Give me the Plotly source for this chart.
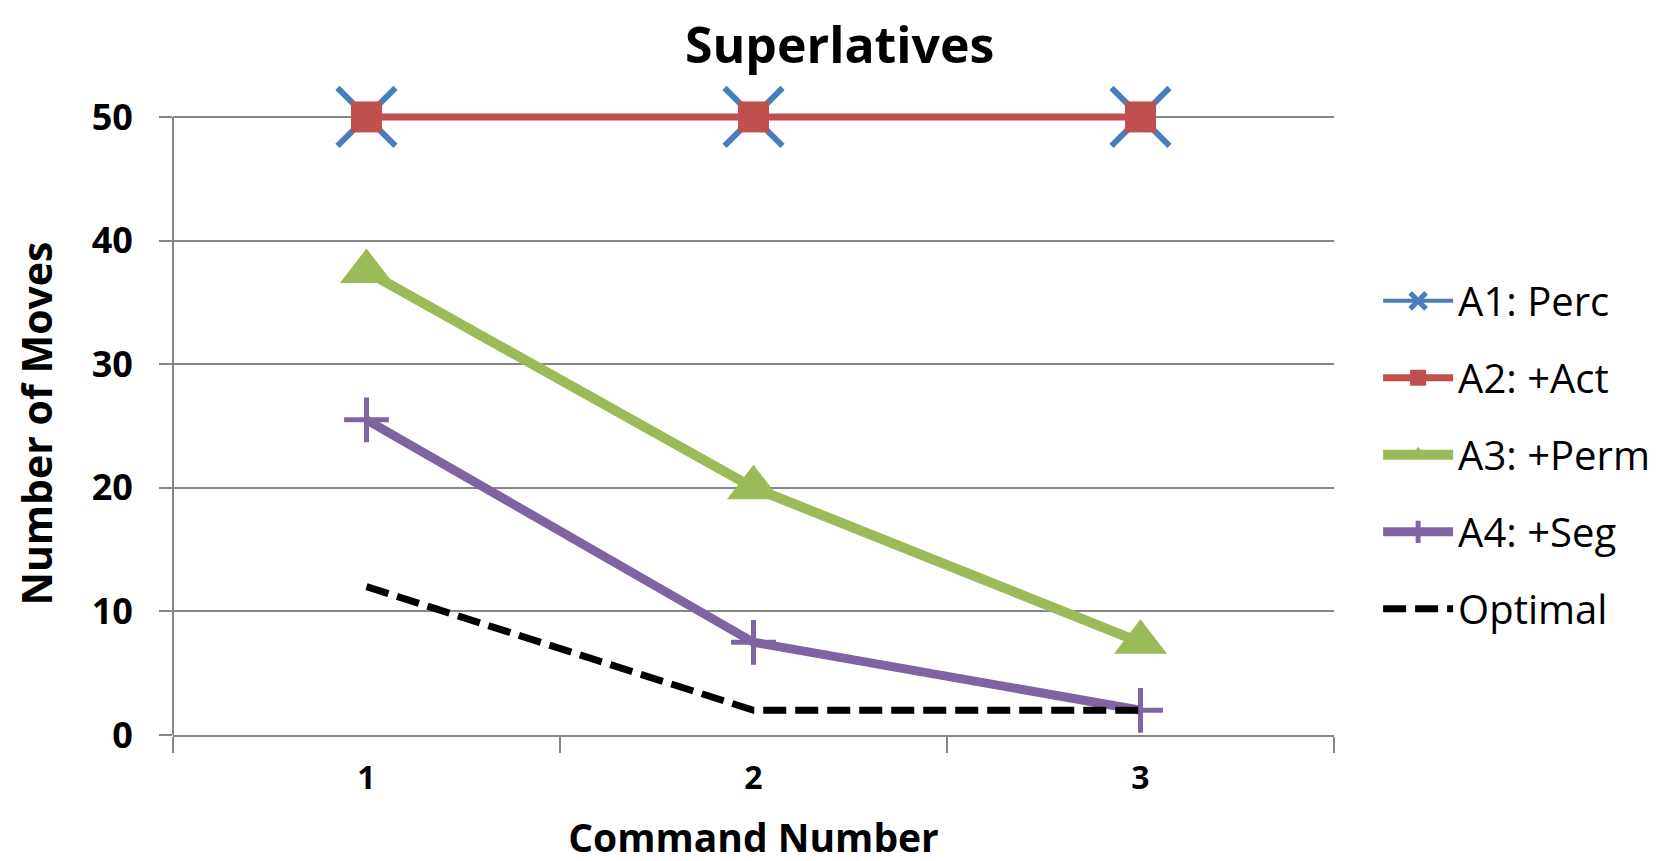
import plotly.graph_objects as go

categories = ["1", "2", "3"]
a1_perc = [50, 50, 50]
a2_act = [50, 50, 50]
a3_perm = [37.5, 20, 7.5]
a4_seg = [25.5, 7.5, 2]
optimal = [12, 2, 2]

y_ticks = [0, 10, 20, 30, 40, 50]
y_max = 50

BLUE = "#4A7EBB"
RED = "#C0504D"
GREEN = "#9BBB59"
PURPLE = "#8064A2"
GRID = "#868686"
FONT = "Open Sans"

fig = go.Figure()

fig.add_trace(go.Scatter(
    x=categories, y=a1_perc, name="A1: Perc", mode="lines+markers",
    line=dict(color=BLUE, width=4),
    marker=dict(symbol="x-thin", size=58, line=dict(color=BLUE, width=6), color=BLUE),
    cliponaxis=False, legendgroup="g1",
))
fig.add_trace(go.Scatter(
    x=categories, y=a2_act, name="A2: +Act", mode="lines+markers",
    line=dict(color=RED, width=7),
    marker=dict(symbol="square", size=31, color=RED, line=dict(width=0)),
    cliponaxis=False, legendgroup="g2",
))
fig.add_trace(go.Scatter(
    x=categories, y=a3_perm, name="A3: +Perm", mode="lines+markers",
    line=dict(color=GREEN, width=10),
    marker=dict(symbol="triangle-up", size=46, color=GREEN, line=dict(width=0)),
    cliponaxis=False, legendgroup="g3",
))
fig.add_trace(go.Scatter(
    x=categories, y=a4_seg, name="A4: +Seg", mode="lines+markers",
    line=dict(color=PURPLE, width=9),
    marker=dict(symbol="cross-thin", size=32, line=dict(color=PURPLE, width=5), color=PURPLE),
    cliponaxis=False, legendgroup="g4",
))
fig.add_trace(go.Scatter(
    x=categories, y=optimal, name="Optimal", mode="lines",
    line=dict(color="black", width=7, dash="23px,9px"),
    cliponaxis=False, legendgroup="g5",
))

fig.update_layout(
    width=1670, height=861,
    paper_bgcolor="white", plot_bgcolor="white",
    margin=dict(l=165, r=344, t=104, b=134, autoexpand=False),
    font=dict(family=FONT, color="black"),
    title=dict(
        text="<b>Superlatives</b>", x=0.498, xref="container", xanchor="center",
        y=0.956, yref="container", yanchor="middle",
        font=dict(family=FONT, size=50, color="black"),
    ),
    legend=dict(
        x=1.038, xanchor="left", y=0.749, yanchor="top",
        font=dict(family=FONT, size=40, color="black"),
        itemwidth=70, tracegroupgap=22, bgcolor="rgba(0,0,0,0)",
    ),
    showlegend=True,
    shapes=[dict(type="line", xref="paper", x0=0, x1=0, yref="y", y0=0, y1=y_max,
                 line=dict(color=GRID, width=2), layer="below")],
)

fig.update_xaxes(
    type="category", range=[-0.5, 2.5], automargin=False,
    showgrid=False, zeroline=False,
    showline=True, linecolor=GRID, linewidth=2,
    ticks="outside", tickson="boundaries", ticklen=16, tickwidth=2, tickcolor=GRID,
    ticklabelstandoff=14,
    tickfont=dict(family=FONT, size=32, color="black", weight="bold"),
    title=dict(text="<b>Command Number</b>", font=dict(family=FONT, size=39, color="black"), standoff=27),
    fixedrange=True,
)
fig.update_yaxes(
    range=[0, 50.4], tickvals=y_ticks, ticktext=[str(v) for v in y_ticks], automargin=False,
    showgrid=True, gridcolor=GRID, gridwidth=2, zeroline=False,
    showline=False,
    ticks="outside", ticklen=13, tickwidth=2, tickcolor=GRID,
    ticklabelstandoff=19,
    tickfont=dict(family=FONT, size=36, color="black", weight="bold"),
    title=dict(text="<b>Number of Moves</b>", font=dict(family=FONT, size=41, color="black"), standoff=40),
)

fig.write_html("out.html")
